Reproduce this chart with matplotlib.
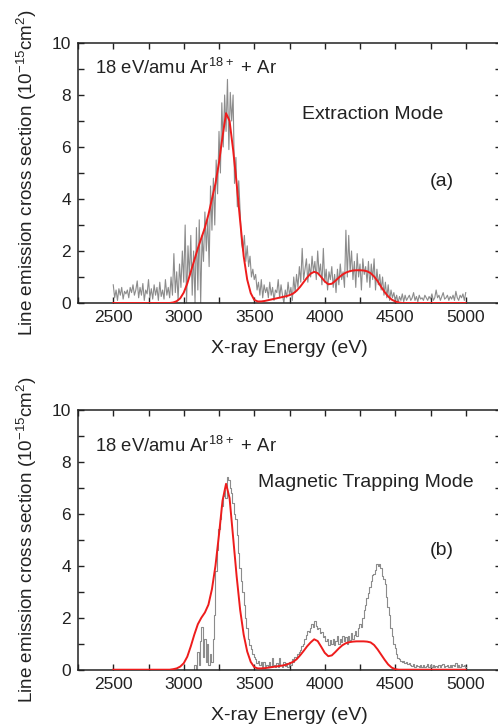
import numpy as np
import matplotlib
matplotlib.use("Agg")
import matplotlib.pyplot as plt
from matplotlib.ticker import MultipleLocator

plt.rcParams['font.family'] = ['Liberation Sans', 'DejaVu Sans']
plt.rcParams['mathtext.fontset'] = 'custom'
plt.rcParams['mathtext.rm'] = 'Liberation Sans'

# ---------------- data ----------------
energy = np.arange(2500, 5001, 10)        # eV, measured spectra grid
fit_energy = np.arange(2500, 5001, 25)    # eV, fit curve grid

extraction_meas = (
    [0.7, 0.2, 0.5, 0.1, 0.55, 0.3, 0.6, 0.15, 0.45, 0.35] +   # 2500
    [0.5, 0.2, 0.6, 0.4, 0.7, 0.3, 0.5, 0.85, 0.2, 0.6] +      # 2600
    [0.3, 0.75, 0.1, 0.5, 0.35, 0.9, 0.2, 0.55, 0.15, 0.7] +   # 2700
    [0.3, 0.6, 0.1, 0.8, 0.25, 0.5, 0.15, 0.9, 0.3, 0.6] +     # 2800
    [0.2, 1.0, 0.3, 1.9, 0.4, 1.2, 0.1, 1.5, 0.6, 2.0] +       # 2900
    [0.8, 3.0, 0.0, 2.2, 1.0, 2.6, 0.3, 2.0, 0.0, 2.9] +       # 3000
    [0.5, 3.2, 0.0, 2.6, 1.6, 3.5, 2.0, 3.3, 1.4, 4.5] +       # 3100
    [2.8, 4.8, 3.0, 5.5, 4.2, 6.6, 5.0, 7.7, 6.0, 8.0] +       # 3200
    [6.6, 8.6, 5.9, 8.1, 7.0, 8.0, 4.6, 5.6, 3.7, 4.7] +       # 3300
    [3.5, 2.3, 2.0, 2.6, 1.6, 2.2, 1.4, 1.8, 1.0, 1.3] +       # 3400
    [0.9, 1.1, 0.5, 0.8, 0.3, 0.9, 0.2, 0.7, 0.4, 0.6] +       # 3500
    [0.2, 0.8, 0.3, 0.6, 0.1, 0.5, 0.4, 0.9, 0.2, 0.7] +       # 3600
    [0.3, 0.0, 0.5, 0.2, 0.8, 0.3, 0.6, 0.1, 1.0, 0.4] +       # 3700
    [1.1, 0.6, 1.4, 0.8, 2.1, 0.9, 1.3, 1.7, 0.8, 1.5] +       # 3800
    [1.0, 1.8, 1.2, 1.6, 0.9, 2.0, 1.1, 1.5, 0.7, 2.1] +       # 3900
    [0.8, 1.3, 0.5, 1.2, 0.9, 1.4, 0.6, 1.1, 0.4, 1.3] +       # 4000
    [0.7, 1.5, 0.9, 1.2, 0.6, 2.8, 1.0, 2.6, 1.2, 2.0] +       # 4100
    [0.9, 1.6, 0.6, 1.9, 1.0, 1.5, 0.5, 1.7, 1.1, 1.4] +       # 4200
    [0.8, 1.6, 0.6, 1.5, 0.9, 1.7, 0.5, 1.3, 0.7, 1.1] +       # 4300
    [0.5, 1.0, 0.3, 0.8, 0.2, 0.7, 0.1, 0.5, 0.2, 0.4] +       # 4400
    [0.1, 0.3, 0.0, 0.25, 0.1, 0.35, 0.05, 0.3, 0.1, 0.2] +    # 4500
    [0.3, 0.1, 0.2, 0.4, 0.1, 0.25, 0.05, 0.3, 0.15, 0.2] +    # 4600
    [0.1, 0.3, 0.2, 0.1, 0.25, 0.15, 0.35, 0.1, 0.2, 0.5] +    # 4700
    [0.2, 0.3, 0.1, 0.25, 0.4, 0.15, 0.2, 0.3, 0.1, 0.25] +    # 4800
    [0.15, 0.3, 0.1, 0.45, 0.2, 0.1, 0.3, 0.2, 0.35, 0.1] +    # 4900
    [0.4]                                                      # 5000
)

trapping_meas = (
    [0.0] * 50 +                                               # 2500-2990
    [0, 0, 0, 0, 0, 0, 0, 0, 0.2, 0.0] +                       # 3000
    [0.7, 0.2, 1.1, 1.65, 0.5, 1.2, 0.3, 1.0, 0.2, 0.6] +      # 3100
    [0.3, 1.2, 2.1, 3.8, 4.6, 5.4, 5.8, 6.3, 6.7, 6.9] +       # 3200
    [6.6, 7.4, 7.3, 7.0, 6.8, 6.4, 6.0, 5.8, 5.2, 4.5] +       # 3300
    [3.9, 3.4, 3.0, 2.5, 2.0, 1.6, 1.2, 0.95, 0.8, 0.6] +      # 3400
    [0.5, 0.4, 0.25, 0.35, 0.2, 0.3, 0.1, 0.3, 0.15, 0.2] +    # 3500
    [0.1, 0.3, 0.15, 0.45, 0.2, 0.1, 0.25, 0.1, 0.45, 0.2] +   # 3600
    [0.1, 0.3, 0.15, 0.25, 0.1, 0.3, 0.2, 0.4, 0.3, 0.5] +     # 3700
    [0.45, 0.6, 0.7, 0.75, 0.9, 1.0, 1.2, 1.35, 1.5, 1.45] +   # 3800
    [1.6, 1.75, 1.65, 1.87, 1.7, 1.55, 1.6, 1.4, 1.45, 1.25] + # 3900
    [1.3, 1.1, 1.2, 0.95, 1.15, 1.0, 1.2, 0.95, 1.1, 1.3] +    # 4000
    [1.0, 1.2, 1.05, 1.3, 1.1, 1.25, 1.0, 1.3, 1.15, 1.4] +    # 4100
    [1.2, 1.35, 1.5, 1.3, 1.6, 1.75, 1.65, 2.0, 2.3, 2.5] +    # 4200
    [2.75, 2.95, 3.2, 3.4, 3.65, 3.7, 3.85, 4.05, 4.0, 4.07] + # 4300
    [3.9, 3.6, 3.5, 3.3, 2.8, 2.4, 2.1, 1.6, 1.3, 1.0] +       # 4400
    [0.85, 0.6, 0.45, 0.4, 0.35, 0.3, 0.35, 0.25, 0.3, 0.22] + # 4500
    [0.25, 0.2, 0.15, 0.22, 0.12, 0.2, 0.15, 0.1, 0.18, 0.12] + # 4600
    [0.2, 0.1, 0.15, 0.22, 0.1, 0.18, 0.12, 0.2, 0.1, 0.15] +  # 4700
    [0.12, 0.2, 0.1, 0.18, 0.22, 0.1, 0.15, 0.2, 0.12, 0.18] + # 4800
    [0.1, 0.2, 0.15, 0.25, 0.12, 0.18, 0.1, 0.22, 0.15, 0.2] + # 4900
    [0.1]                                                      # 5000
)

extraction_fit = (
    [0.0] * 16 +                                               # 2500-2875
    [0.0, 0.02, 0.07, 0.18] +                                  # 2900
    [0.4, 0.75, 1.2, 1.65] +                                   # 3000
    [2.1, 2.5, 2.9, 3.4] +                                     # 3100
    [4.0, 4.6, 5.4, 6.4] +                                     # 3200
    [7.3, 7.0, 5.9, 4.6] +                                     # 3300
    [3.15, 1.8, 0.9, 0.38] +                                   # 3400
    [0.12, 0.06, 0.06, 0.08] +                                 # 3500
    [0.11, 0.14, 0.17, 0.2] +                                  # 3600
    [0.23, 0.26, 0.3, 0.36] +                                  # 3700
    [0.47, 0.62, 0.8, 0.98] +                                  # 3800
    [1.13, 1.2, 1.15, 1.0] +                                   # 3900
    [0.83, 0.72, 0.74, 0.85] +                                 # 4000
    [0.98, 1.09, 1.17, 1.22] +                                 # 4100
    [1.25, 1.26, 1.26, 1.25] +                                 # 4200
    [1.22, 1.15, 1.02, 0.84] +                                 # 4300
    [0.62, 0.42, 0.25, 0.13] +                                 # 4400
    [0.06, 0.02, 0.0, 0.0] +                                   # 4500
    [0.0] * 16 +                                               # 4600-4975
    [0.0]                                                      # 5000
)

trapping_fit = (
    [0.0] * 16 +                                               # 2500-2875
    [0.0, 0.02, 0.05, 0.12] +                                  # 2900
    [0.25, 0.5, 0.9, 1.35] +                                   # 3000
    [1.75, 2.0, 2.2, 2.5] +                                    # 3100
    [3.1, 4.0, 5.2, 6.5] +                                     # 3200
    [7.15, 6.6, 5.1, 3.6] +                                    # 3300
    [2.3, 1.35, 0.7, 0.3] +                                    # 3400
    [0.1, 0.05, 0.05, 0.06] +                                  # 3500
    [0.08, 0.1, 0.12, 0.14] +                                  # 3600
    [0.16, 0.19, 0.24, 0.3] +                                  # 3700
    [0.4, 0.55, 0.72, 0.9] +                                   # 3800
    [1.05, 1.17, 1.1, 0.88] +                                  # 3900
    [0.65, 0.52, 0.55, 0.68] +                                 # 4000
    [0.82, 0.94, 1.02, 1.06] +                                 # 4100
    [1.08, 1.09, 1.09, 1.09] +                                 # 4200
    [1.08, 1.05, 0.95, 0.78] +                                 # 4300
    [0.58, 0.38, 0.2, 0.08] +                                  # 4400
    [0.02, 0.0, 0.0, 0.0] +                                    # 4500
    [0.0] * 16 +                                               # 4600-4975
    [0.0]                                                      # 5000
)

x_ticks = [2500, 3000, 3500, 4000, 4500, 5000]
y_ticks = [0, 2, 4, 6, 8, 10]
mode_labels = ["Extraction Mode", "Magnetic Trapping Mode"]
panel_labels = ["(a)", "(b)"]
title_text = "18 eV/amu Ar$^{18+}$ + Ar"
x_label = "X-ray Energy (eV)"
y_label = "Line emission cross section (10$^{-15}$cm$^{2}$)"

# ---------------- figure ----------------
W, H = 498, 726
fig = plt.figure(figsize=(W / 100, H / 100), dpi=100)

def px_axes(left, top, right, bottom):
    return fig.add_axes([left / W, 1 - bottom / H, (right - left) / W, (bottom - top) / H])

axes_px = [(78, 43, 501, 303), (78, 409.7, 501, 669.7)]
meas = [extraction_meas, trapping_meas]
fits = [extraction_fit, trapping_fit]
styles = ['default', 'steps-mid']
mode_pos = [(3840, 7.25), (3525, 7.2)]
title_y = [9.05, 8.6]
panel_y = [4.67, 4.6]

for i in range(2):
    ax = px_axes(*axes_px[i])
    ax.plot(energy, meas[i], color='#8c8c8c', lw=0.8, drawstyle=styles[i], zorder=2)
    ax.plot(fit_energy, fits[i], color='#ee1c1c', lw=1.4, zorder=3)
    ax.set_xlim(2250, 5250)
    ax.set_ylim(0, 10)
    ax.set_xticks(x_ticks)
    ax.set_yticks(y_ticks)
    ax.xaxis.set_minor_locator(MultipleLocator(250))
    ax.yaxis.set_minor_locator(MultipleLocator(1))
    ax.tick_params(which='both', direction='in', top=True, right=True,
                   length=4, width=1.0, color='#222222', labelsize=12.5,
                   labelcolor='#222222', pad=5)
    for s in ax.spines.values():
        s.set_linewidth(1.1)
        s.set_color('#222222')
    ax.set_xlabel(x_label, fontsize=14, color='#222222', labelpad=11)
    ax.set_ylabel(y_label, fontsize=13.6, color='#222222', labelpad=9)
    ax.text(2370, title_y[i], title_text, fontsize=13.3, color='#222222', va='center', ha='left')
    ax.text(mode_pos[i][0], mode_pos[i][1], mode_labels[i], fontsize=14, color='#222222',
            va='center', ha='left')
    ax.text(4830, panel_y[i], panel_labels[i], fontsize=14, color='#222222',
            va='center', ha='center')

fig.savefig("out.png", dpi=100)
